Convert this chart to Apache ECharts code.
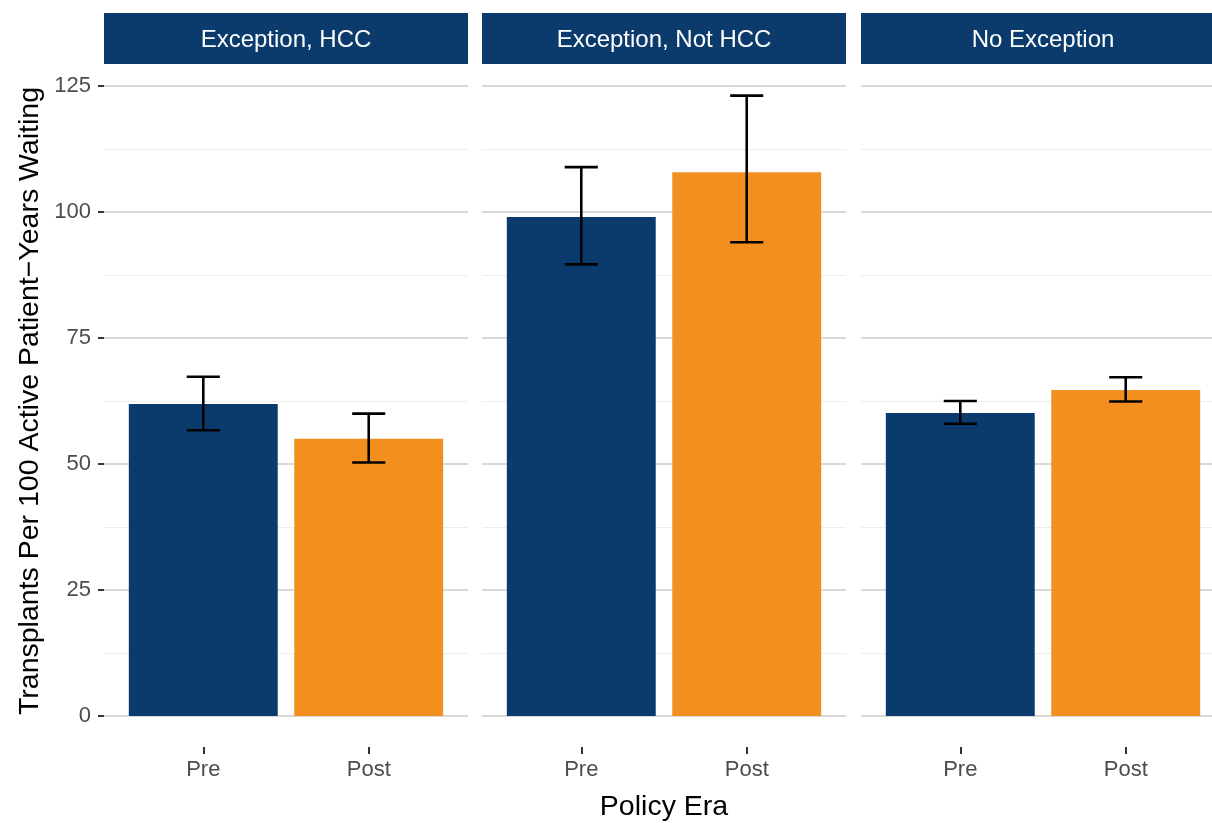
<!DOCTYPE html>
<html>
<head>
<meta charset="utf-8">
<script src="https://cdn.jsdelivr.net/npm/echarts@6/dist/echarts.min.js"></script>
<style>
html,body{margin:0;padding:0;background:#fff;}
#chart{width:1212px;height:823px;}
</style>
</head>
<body>
<div id="chart"></div>
<script>
// ---- data ----
const facets = ['Exception, HCC', 'Exception, Not HCC', 'No Exception'];
const eras = ['Pre', 'Post'];
const rates = [[61.9, 55.0], [99.0, 107.9], [60.1, 64.7]];
const lower = [[56.7, 50.3], [89.6, 94.0], [58.0, 62.4]];
const upper = [[67.3, 60.0], [108.9, 123.1], [62.5, 67.2]];
const yMin = 0, yMax = 125, yStep = 25;
const yTitle = 'Transplants Per 100 Active Patient\u2212Years Waiting';
const xTitle = 'Policy Era';

// ---- styling ----
const eraColors = ['#0B3B6C', '#F28F1E'];
const stripColor = '#0B3B6C';
const FONT = '"Liberation Sans", Arial, Helvetica, sans-serif';
const panelLeft = [104, 482, 861];
const panelW = 364;
const plotTop = 86, plotH = 630;
const bandFrac = 1 / 2.2; // ggplot discrete expansion 0.6 on each side
const innerW = panelW * 2 * bandFrac;

const chart = echarts.init(document.getElementById('chart'), null, {renderer: 'canvas'});

const grid = [], xAxis = [], yAxis = [], series = [], graphic = [];

facets.forEach((f, i) => {
  grid.push({left: panelLeft[i], width: panelW, top: plotTop, height: plotH, containLabel: false, outerBoundsMode: 'none'});
  grid.push({left: panelLeft[i] + (panelW - innerW) / 2, width: innerW, top: plotTop, height: plotH, containLabel: false, outerBoundsMode: 'none'});
  const gA = 2 * i, gB = 2 * i + 1;

  xAxis.push({gridIndex: gA, type: 'value', min: 0, max: 1, show: false});
  xAxis.push({
    gridIndex: gB, type: 'category', data: eras, boundaryGap: true,
    position: 'bottom', offset: 31,
    axisLine: {show: true, onZero: false, lineStyle: {color: 'rgba(0,0,0,0)', width: 0}},
    axisTick: {show: true, alignWithLabel: true, length: 7, lineStyle: {color: '#333', width: 2}},
    axisLabel: {color: '#4D4D4D', fontSize: 22, fontFamily: FONT, margin: 12},
    splitLine: {show: false},
    name: i === 1 ? xTitle : '',
    nameLocation: 'middle', nameGap: 46,
    nameTextStyle: {color: '#000', fontSize: 28.5, fontFamily: FONT}
  });

  yAxis.push({
    gridIndex: gA, type: 'value', min: yMin, max: yMax, interval: yStep,
    axisLine: {show: false},
    axisTick: {show: i === 0, length: 6, lineStyle: {color: '#333', width: 2}},
    axisLabel: {show: i === 0, color: '#4D4D4D', fontSize: 22, fontFamily: FONT, margin: 13},
    splitLine: {show: true, lineStyle: {color: '#D9D9D9', width: 2}},
    minorTick: {show: false, splitNumber: 2},
    minorSplitLine: {show: true, lineStyle: {color: '#EDEDED', width: 1}},
    name: i === 0 ? yTitle : '',
    nameLocation: 'middle', nameGap: 59, nameRotate: 90,
    nameTextStyle: {color: '#000', fontSize: 28.5, fontFamily: FONT}
  });
  yAxis.push({gridIndex: gB, type: 'value', min: yMin, max: yMax, interval: yStep, show: false, splitLine: {show: false}});

  series.push({
    type: 'bar', xAxisIndex: gB, yAxisIndex: gB, barWidth: innerW / 2 * 0.9,
    data: rates[i].map((v, j) => ({value: v, itemStyle: {color: eraColors[j]}})),
    silent: true, animation: false, z: 2
  });

  series.push({
    type: 'custom', xAxisIndex: gB, yAxisIndex: gB,
    data: eras.map((e, j) => [j, lower[i][j], upper[i][j]]),
    encode: {x: 0, y: [1, 2]},
    animation: false, silent: true, z: 5,
    renderItem: function (params, api) {
      const x = api.value(0), lo = api.value(1), hi = api.value(2);
      const pLo = api.coord([x, lo]);
      const pHi = api.coord([x, hi]);
      const hw = api.size([1, 0])[0] * 0.1;
      const st = {stroke: '#000', lineWidth: 2.6};
      return {type: 'group', children: [
        {type: 'line', shape: {x1: pLo[0], y1: pLo[1], x2: pHi[0], y2: pHi[1]}, style: st},
        {type: 'line', shape: {x1: pLo[0] - hw, y1: pLo[1], x2: pLo[0] + hw, y2: pLo[1]}, style: st},
        {type: 'line', shape: {x1: pHi[0] - hw, y1: pHi[1], x2: pHi[0] + hw, y2: pHi[1]}, style: st}
      ]};
    }
  });

  graphic.push({
    type: 'group', left: panelLeft[i], top: 13,
    children: [
      {type: 'rect', shape: {x: 0, y: 0, width: panelW, height: 51}, style: {fill: stripColor}},
      {type: 'text', x: panelW / 2, y: 27, style: {text: f, fill: '#FFFFFF', font: '24px ' + FONT, align: 'center', verticalAlign: 'middle'}}
    ]
  });
});

chart.setOption({
  backgroundColor: '#FFFFFF',
  animation: false,
  grid, xAxis, yAxis, series, graphic
});
</script>
</body>
</html>
